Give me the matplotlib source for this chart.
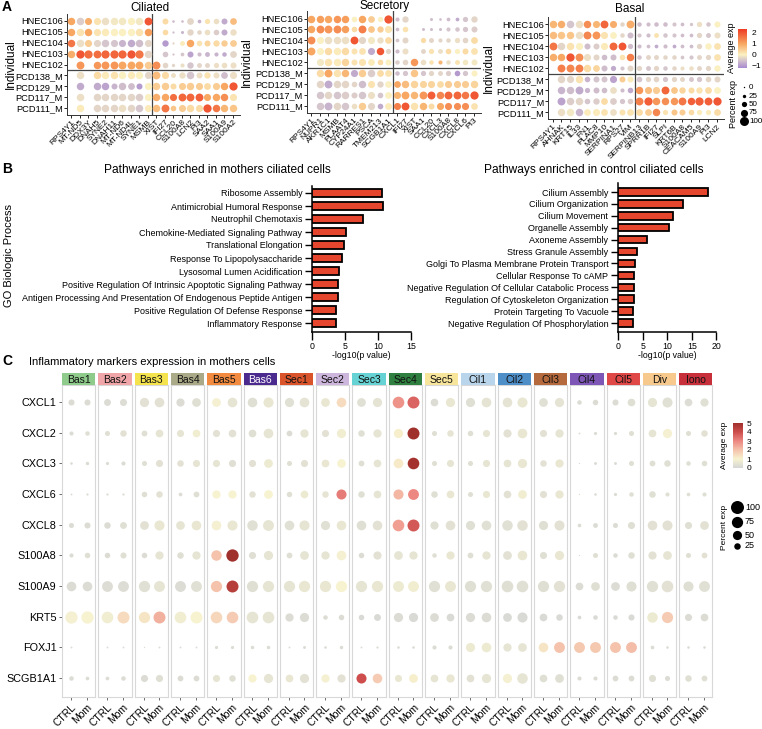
import numpy as np
import matplotlib
matplotlib.use('Agg')
import matplotlib.pyplot as plt
from matplotlib.colors import LinearSegmentedColormap, Normalize
from matplotlib.cm import ScalarMappable

plt.rcParams['font.family'] = ['Liberation Sans', 'DejaVu Sans']

W, H = 762, 729
fig = plt.figure(figsize=(W / 100, H / 100), dpi=100)

# ---------------- DATA : panel A ----------------
individuals = ['HNEC106', 'HNEC105', 'HNEC104', 'HNEC103', 'HNEC102',
               'PCD138_M', 'PCD129_M', 'PCD117_M', 'PCD111_M']
nan = np.nan

cil_genes = ['RPS4Y1', 'MT-ND5', 'DDX3Y', 'DNAH5', 'SYNE2', 'DNAH11', 'MT-ND6', 'MT-ND4L', 'SYNE1', 'MSMB',
             'XIST', 'IFI27', 'CCL20', 'S100A8', 'LCN2', 'PI3', 'SAA2', 'SAA1', 'S100A9', 'S100A2']
cil_avg = [
    [1.0, -0.4, 0.9, 0.2, -0.2, -0.1, -0.1, 0.0, -0.1, 2.0, nan, 0.3, -0.6, -0.6, -0.3, -0.7, 0.2, -0.2, -0.8, 0.7],
    [1.0, 0.2, 1.0, 0.2, 0.1, 0.0, 0.0, 0.0, 0.2, 1.1, nan, 0.3, -0.6, -0.7, -0.3, -0.3, -0.2, -0.4, -0.8, -0.2],
    [1.6, -0.2, 0.5, -0.3, -0.5, -0.5, -0.7, -0.8, -0.6, -0.3, nan, -1.0, -0.3, 0.1, 1.0, 0.2, 0.4, 0.3, 0.5, 0.5],
    [0.9, 2.0, 1.7, 1.7, 1.8, 1.8, 1.8, 2.0, 1.6, -0.3, nan, -0.5, -0.5, -0.5, -0.9, -0.6, -0.7, -0.7, -0.8, -0.3],
    [nan, 1.2, nan, 1.2, 1.2, 1.2, 1.0, 1.0, 1.0, 0.5, 1.3, -0.3, -0.3, -0.2, -0.5, -0.3, -0.3, -0.2, -0.2, -0.2],
    [nan, -0.2, nan, 0.3, 0.1, 0.2, 0.0, 0.1, 0.0, -0.3, 0.7, 0.3, -0.2, -0.2, -0.5, -0.2, 0.2, -0.2, -0.6, -0.2],
    [nan, -0.8, nan, -0.8, -0.9, -0.7, -0.6, -0.6, -1.0, 0.0, 0.5, 0.5, 0.3, 0.5, 0.5, 0.5, 0.3, 0.5, 1.0, 2.0],
    [nan, -0.2, nan, -0.3, -0.3, -0.3, -0.3, -0.3, -0.4, 0.0, 0.9, 1.0, 1.7, 1.8, 1.8, 1.9, 1.0, 1.0, 1.3, 0.2],
    [nan, 0.1, nan, -0.3, -0.3, -0.3, -0.2, -0.3, -0.5, 0.1, 0.7, 1.6, 0.6, 0.5, 0.3, 0.3, 2.0, 1.6, 0.8, 0.6],
]
cil_pct = [
    [80, 80, 75, 75, 80, 80, 80, 80, 80, 85, 0, 60, 15, 15, 70, 30, 50, 55, 60, 70],
    [80, 80, 80, 75, 80, 80, 80, 80, 80, 80, 0, 55, 10, 20, 65, 40, 55, 55, 60, 65],
    [80, 80, 75, 75, 80, 75, 75, 80, 80, 75, 0, 65, 10, 45, 80, 55, 60, 65, 65, 70],
    [80, 90, 90, 85, 90, 90, 90, 90, 90, 80, 0, 55, 10, 30, 60, 35, 45, 35, 40, 70],
    [0, 85, 0, 80, 85, 85, 85, 85, 85, 80, 85, 55, 25, 35, 65, 45, 45, 50, 55, 60],
    [0, 80, 0, 80, 80, 80, 80, 80, 80, 75, 85, 75, 45, 65, 80, 60, 65, 60, 70, 75],
    [0, 80, 0, 80, 80, 60, 80, 70, 60, 75, 80, 80, 60, 75, 80, 75, 70, 75, 80, 90],
    [0, 80, 0, 80, 80, 80, 80, 80, 80, 75, 80, 80, 75, 85, 85, 85, 75, 80, 80, 75],
    [0, 80, 0, 80, 80, 80, 80, 80, 80, 75, 80, 85, 55, 75, 80, 75, 90, 80, 80, 80],
]

sec_genes = ['RPS4Y1', 'NUPR1', 'AKR1C1', 'MSMB', 'PLAAT4', 'CYP24A1', 'RARRES1', 'PSCA', 'TMEM213', 'SCGB1A1',
             'CXCL1', 'IFI27', 'XIST', 'SAA1', 'CCL20', 'CXCL3', 'S100A8', 'CXCL8', 'CXCL6', 'PI3']
sec_avg = [
    [1.0, 1.1, 1.0, 1.2, 1.1, 0.0, 1.0, 0.5, 0.0, 2.0, -0.6, -0.3, nan, nan, -0.6, -0.6, -0.6, -0.8, -0.5, -0.3],
    [1.0, 1.3, 1.2, 1.3, 1.1, 0.3, 1.5, 0.6, 0.5, 0.2, -0.6, 0.2, nan, -0.6, -0.6, -0.6, -0.5, -0.5, -0.5, -0.4],
    [1.3, 0.0, -0.2, -0.2, -0.2, 2.0, -0.3, -0.1, -0.2, 0.3, -0.5, -0.3, nan, 0.3, -0.3, -0.3, -0.3, -0.2, -0.3, 0.3],
    [1.0, 0.0, 0.3, 0.1, 0.3, 0.2, 0.2, -0.8, 2.0, -0.3, -0.6, -0.2, nan, -0.3, 0.2, -0.2, 0.3, 0.0, 0.3, 0.2],
    [nan, -0.1, 0.2, 0.1, 0.4, 0.2, 0.2, 0.1, 0.3, 0.0, -0.4, -0.3, 1.2, -0.2, 0.2, 0.8, -0.2, 0.2, -0.1, -0.1],
    [nan, 0.3, 1.0, 0.2, 0.8, -0.8, 0.5, -0.4, 0.3, 0.2, -0.6, -0.5, 0.6, -0.5, -0.3, -0.3, -0.4, -1.0, -0.5, 0.0],
    [nan, -0.3, -0.8, -0.3, -0.3, -0.3, -0.6, 0.2, -0.3, 0.0, 1.0, 0.7, 0.4, 0.4, 0.4, 0.3, 0.5, 0.5, 0.5, 0.4],
    [nan, -0.5, -0.3, -0.5, -0.4, -0.4, -0.5, -0.2, -0.5, 0.0, 0.8, 1.0, 0.8, 1.2, 1.9, 1.4, 1.8, 1.8, 1.6, 2.0],
    [nan, -0.5, -0.7, -0.3, -0.5, -0.2, 0.5, -0.3, -0.8, 0.1, 1.5, 2.0, 0.2, 0.8, 0.3, 1.0, 1.3, 1.3, 1.3, 0.2],
]
sec_pct = [
    [80, 80, 80, 80, 80, 55, 80, 70, 50, 90, 35, 65, 0, 0, 20, 15, 30, 30, 50, 65],
    [80, 85, 85, 85, 80, 55, 85, 70, 65, 75, 30, 55, 0, 20, 20, 20, 35, 40, 50, 60],
    [85, 75, 80, 80, 80, 85, 75, 75, 65, 70, 30, 60, 0, 50, 45, 35, 40, 50, 55, 70],
    [85, 75, 80, 80, 80, 60, 70, 75, 80, 50, 35, 60, 0, 45, 50, 45, 55, 50, 60, 70],
    [0, 75, 80, 80, 80, 60, 75, 70, 55, 60, 40, 55, 80, 55, 40, 35, 40, 45, 55, 60],
    [0, 80, 85, 80, 80, 75, 80, 80, 70, 70, 40, 50, 80, 50, 50, 45, 50, 55, 50, 60],
    [0, 80, 85, 80, 80, 55, 80, 75, 65, 70, 70, 80, 80, 75, 75, 70, 75, 75, 75, 80],
    [0, 80, 80, 80, 80, 60, 80, 75, 55, 70, 75, 85, 80, 85, 85, 80, 85, 85, 80, 90],
    [0, 80, 85, 80, 80, 55, 80, 75, 55, 70, 75, 85, 80, 80, 60, 75, 75, 75, 75, 70],
]

bas_genes = ['RPS4Y1', 'AHNAK', 'KRT15', 'IL33', 'FN1', 'PLAC8', 'MMP10', 'SERPINA1', 'RPS27', 'VIM',
             'SERPINB13', 'SPRR1B', 'IFI27', 'SLPI', 'KRT6B', 'S100A8', 'CEACAM5', 'S100A9', 'PI3', 'LCN2']
bas_avg = [
    [0.8, 0.9, -0.5, -0.2, 1.3, 0.8, 1.8, 0.9, -0.3, 0.9, -0.6, -0.6, -0.6, -0.6, -0.5, -0.6, -0.5, -0.2, -0.5, 0.0],
    [0.7, 0.6, 0.6, -0.2, 1.4, 1.2, 0.2, 0.0, -0.3, -0.6, -0.5, -0.6, 0.2, -0.5, -0.5, -0.6, -0.6, -0.3, -0.5, -0.2],
    [1.6, -0.3, 0.2, 0.0, -0.6, -0.4, 0.1, 1.8, 2.0, -0.6, -0.6, -0.6, -0.8, -0.6, -0.8, -0.6, -0.6, -0.3, 0.0, 0.2],
    [0.9, 1.0, 2.0, 1.3, -0.2, -0.3, -0.6, -0.6, 0.2, 1.5, -0.5, -0.3, -0.3, -0.3, -0.3, -0.5, -0.5, -0.3, -0.3, 0.2],
    [nan, 1.5, 1.4, 1.5, 0.3, 0.4, -0.6, -0.8, -0.5, -0.3, -0.3, -0.5, -0.3, -0.5, -0.3, -0.2, -0.2, -0.3, -0.3, 0.0],
    [nan, -0.3, -0.3, 0.2, -0.7, -0.5, -0.5, -0.9, 0.5, 0.1, -0.5, -0.3, -0.3, -0.5, -0.3, -0.3, -0.5, -0.5, -0.3, -0.3],
    [nan, -0.7, -0.6, -0.8, -0.7, -0.6, -0.6, -0.2, -0.6, -0.8, 1.2, 0.7, 0.5, 1.8, 0.6, 0.4, 0.3, 0.2, 0.3, 0.0],
    [nan, -0.9, -0.4, -0.3, -0.5, -0.4, 0.3, -0.4, -0.5, -0.4, 1.5, 1.9, 1.2, 1.3, 1.2, 1.6, 1.9, 1.9, 1.9, 2.0],
    [nan, -0.2, -0.1, -0.7, 0.1, 0.1, 0.2, -0.2, 0.2, 0.2, 0.3, 0.5, 1.4, 0.2, 0.6, 0.5, 0.3, 0.1, 0.1, 0.3],
]
bas_pct = [
    [80, 80, 80, 80, 80, 75, 85, 75, 40, 85, 40, 35, 40, 40, 35, 30, 25, 50, 40, 60],
    [80, 80, 80, 80, 85, 85, 75, 70, 40, 60, 35, 35, 45, 40, 35, 30, 30, 50, 45, 60],
    [85, 80, 80, 75, 60, 60, 75, 85, 85, 50, 35, 30, 30, 35, 30, 30, 30, 50, 65, 70],
    [80, 80, 90, 85, 75, 60, 55, 60, 55, 80, 40, 45, 45, 40, 40, 30, 35, 45, 50, 70],
    [0, 85, 85, 85, 80, 70, 60, 50, 35, 60, 50, 45, 50, 40, 40, 35, 40, 45, 50, 65],
    [0, 80, 75, 80, 55, 60, 60, 75, 60, 60, 55, 50, 55, 50, 50, 45, 45, 50, 55, 60],
    [0, 80, 80, 85, 50, 60, 55, 70, 35, 55, 80, 75, 75, 85, 70, 65, 60, 65, 70, 70],
    [0, 85, 80, 80, 55, 65, 70, 70, 50, 55, 85, 90, 80, 80, 80, 85, 80, 90, 85, 90],
    [0, 80, 80, 80, 70, 75, 70, 70, 60, 70, 70, 70, 80, 50, 60, 60, 55, 50, 50, 70],
]

# ---------------- DATA : panel B ----------------
mom_terms = ['Ribosome Assembly', 'Antimicrobial Humoral Response', 'Neutrophil Chemotaxis',
             'Chemokine-Mediated Signaling Pathway', 'Translational Elongation',
             'Response To Lipopolysaccharide', 'Lysosomal Lumen Acidification',
             'Positive Regulation Of Intrinsic Apoptotic Signaling Pathway',
             'Antigen Processing And Presentation Of Endogenous Peptide Antigen',
             'Positive Regulation Of Defense Response', 'Inflammatory Response']
mom_logp = [10.6, 10.7, 7.8, 5.1, 4.8, 4.5, 4.1, 3.9, 3.9, 3.7, 3.6]

ctrl_terms = ['Cilium Assembly', 'Cilium Organization', 'Cilium Movement', 'Organelle Assembly',
              'Axoneme Assembly', 'Stress Granule Assembly', 'Golgi To Plasma Membrane Protein Transport',
              'Cellular Response To cAMP', 'Negative Regulation Of Cellular Catabolic Process',
              'Regulation Of Cytoskeleton Organization', 'Protein Targeting To Vacuole',
              'Negative Regulation Of Phosphorylation']
ctrl_logp = [18.2, 13.3, 11.2, 10.4, 5.9, 3.9, 3.5, 3.3, 3.2, 3.2, 3.1, 3.0]

# ---------------- DATA : panel C ----------------
clusters = ['Bas1', 'Bas2', 'Bas3', 'Bas4', 'Bas5', 'Bas6', 'Sec1', 'Sec2', 'Sec3', 'Sec4', 'Sec5',
            'Cil1', 'Cil2', 'Cil3', 'Cil4', 'Cil5', 'Div', 'Iono']
cluster_colors = ['#8FCB8B', '#F0A6A8', '#F4E34C', '#ABAA88', '#F28B3F', '#4C2B8E', '#D9542B',
                  '#CDB6DC', '#66D2D4', '#2F7F40', '#F8E59C', '#B9D5EB', '#4F8FC8', '#B56A3D',
                  '#7D56B6', '#E04747', '#F8C98D', '#C7303B']
conditions = ['CTRL', 'Mom']
markers = ['CXCL1', 'CXCL2', 'CXCL3', 'CXCL6', 'CXCL8', 'S100A8', 'S100A9', 'KRT5', 'FOXJ1', 'SCGB1A1']

# values per cluster as (CTRL, Mom) pairs
avg_CXCL1 = [0.2, 0.2, 0.2, 0.25, 0.4, 0.4, 0.2, 0.3, 0.9, 0.5, 0.3, 0.6, 0.35, 0.45, 0.6, 1.5, 0.35, 0.45,
             2.8, 3.6, 0.2, 0.6, 0.3, 0.45, 0.45, 0.6, 0.35, 0.45, 0.2, 0.2, 0.2, 0.3, 0.5, 0.35, 0.25, 0.35]
pct_CXCL1 = [22, 22, 28, 30, 50, 55, 40, 45, 45, 55, 55, 60, 50, 55, 45, 55, 45, 50,
             80, 85, 35, 50, 50, 55, 55, 60, 45, 50, 12, 18, 22, 35, 50, 60, 35, 40]
avg_CXCL2 = [0.2, 0.3, 0.3, 0.4, 0.3, 0.5, 0.5, 0.8, 0.4, 0.4, 0.3, 0.5, 0.2, 0.5, 0.4, 0.8, 0.3, 0.5,
             1.1, 5.0, 0.3, 0.5, 0.3, 0.5, 0.4, 0.6, 0.4, 0.5, 0.2, 0.2, 0.2, 0.3, 0.5, 0.9, 0.3, 0.4]
pct_CXCL2 = [10, 12, 15, 25, 20, 35, 30, 35, 30, 35, 35, 55, 20, 40, 30, 50, 25, 40,
             50, 85, 15, 25, 18, 30, 40, 55, 30, 40, 2, 6, 6, 15, 35, 50, 15, 25]
avg_CXCL3 = [0.2, 0.2, 0.2, 0.2, 0.3, 0.4, 0.4, 0.5, 0.5, 0.3, 0.4, 0.7, 0.3, 0.4, 0.6, 1.0, 0.3, 0.5,
             1.2, 4.9, 0.3, 0.5, 0.3, 0.5, 0.5, 0.6, 0.4, 0.6, 0.2, 0.2, 0.2, 0.3, 0.3, 0.3, 0.3, 0.3]
pct_CXCL3 = [4, 7, 6, 10, 15, 30, 25, 30, 30, 30, 30, 45, 15, 30, 35, 45, 20, 35,
             55, 80, 15, 30, 15, 30, 35, 50, 25, 40, 1, 5, 5, 15, 20, 25, 12, 18]
avg_CXCL6 = [0.2, 0.2, 0.2, 0.2, 0.3, 0.4, 0.2, 0.3, 1.0, 1.0, 0.4, 1.0, 0.3, 0.7, 0.5, 3.2, 0.3, 0.5,
             2.2, 3.0, 0.3, 0.6, 0.3, 0.6, 0.4, 0.8, 0.4, 0.6, 0.2, 0.2, 0.2, 0.3, 0.3, 0.3, 0.3, 0.3]
pct_CXCL6 = [2, 3, 3, 3, 18, 25, 8, 20, 40, 40, 25, 45, 18, 35, 25, 60, 25, 35,
             60, 70, 25, 35, 15, 30, 35, 45, 30, 40, 1, 4, 6, 12, 25, 10, 8, 10]
avg_CXCL8 = [0.2, 0.2, 0.2, 0.3, 0.4, 0.6, 0.5, 0.6, 0.9, 0.6, 0.35, 0.5, 0.35, 0.5, 0.35, 0.6, 0.3, 0.4,
             2.6, 3.8, 0.3, 0.4, 0.3, 0.35, 0.35, 0.4, 0.3, 0.4, 0.2, 0.2, 0.2, 0.3, 0.4, 0.4, 0.3, 0.4]
pct_CXCL8 = [15, 22, 25, 28, 45, 60, 45, 55, 55, 60, 65, 70, 55, 60, 50, 55, 55, 55,
             80, 85, 40, 55, 50, 55, 65, 65, 50, 60, 8, 14, 15, 30, 55, 60, 30, 45]
avg_S100A8 = [0.2, 0.3, 0.2, 0.3, 0.2, 0.5, 0.3, 0.5, 2.0, 5.0, 0.3, 0.5, 0.3, 0.5, 0.5, 0.9, 0.2, 0.4,
              0.5, 0.5, 0.3, 0.6, 0.3, 0.5, 0.4, 0.6, 0.3, 0.6, 0.2, 0.3, 0.2, 0.3, 0.4, 0.5, 0.3, 0.4]
pct_S100A8 = [10, 18, 18, 22, 18, 40, 25, 40, 65, 90, 30, 50, 20, 45, 40, 55, 18, 40,
              45, 40, 12, 40, 20, 40, 45, 55, 30, 50, 1, 15, 12, 25, 40, 45, 15, 20]
avg_S100A9 = [0.2, 0.2, 0.25, 0.25, 0.35, 0.5, 0.2, 0.35, 2.0, 4.5, 0.3, 0.5, 0.5, 0.6, 0.6, 1.0, 0.5, 0.6,
              0.7, 0.8, 0.35, 0.6, 0.3, 0.35, 0.3, 0.35, 0.3, 0.4, 0.2, 0.3, 0.2, 0.3, 0.35, 0.4, 0.3, 0.35]
pct_S100A9 = [55, 55, 70, 70, 75, 70, 70, 70, 75, 85, 75, 75, 75, 75, 75, 75, 75, 75,
              70, 70, 75, 70, 75, 75, 80, 80, 75, 75, 35, 45, 45, 60, 75, 80, 60, 70]
avg_KRT5 = [0.9, 1.0, 0.8, 1.5, 1.3, 2.3, 0.8, 1.0, 1.6, 1.8, 0.5, 0.5, 0.2, 0.2, 0.2, 0.2, 0.1, 0.1,
            0.2, 0.1, 0.2, 0.1, 0.2, 0.2, 0.1, 0.1, 0.1, 0.1, 0.1, 0.1, 0.1, 0.1, 0.7, 1.8, 0.2, 0.2]
pct_KRT5 = [90, 90, 80, 85, 75, 85, 80, 85, 80, 80, 80, 80, 40, 50, 12, 18, 18, 28,
            50, 50, 45, 35, 50, 55, 45, 60, 35, 25, 8, 12, 12, 22, 65, 75, 30, 35]
avg_FOXJ1 = [0.2, 0.2, 0.2, 0.2, 0.2, 0.2, 0.2, 0.2, 0.2, 0.2, 0.2, 0.2, 0.2, 0.2, 0.2, 0.2, 0.2, 0.2,
             0.2, 0.2, 0.2, 0.2, 0.7, 0.7, 0.5, 0.5, 1.3, 2.0, 1.9, 1.9, 2.0, 2.1, 0.2, 0.2, 0.2, 0.2]
pct_FOXJ1 = [2, 0, 2, 2, 1, 2, 2, 2, 6, 6, 7, 7, 2, 5, 4, 7, 2, 3,
             4, 4, 10, 10, 50, 55, 40, 45, 55, 70, 70, 70, 70, 70, 8, 4, 4, 4]
avg_SCGB1A1 = [0.2, 0.2, 0.2, 0.2, 0.2, 0.3, 0.2, 0.2, 0.5, 0.3, 1.0, 0.5, 0.6, 0.4, 0.9, 0.4, 4.0, 1.8,
               0.6, 1.1, 0.5, 0.6, 0.4, 0.5, 0.9, 0.5, 0.3, 0.3, 0.2, 0.2, 0.2, 0.2, 0.3, 0.2, 0.3, 0.3]
pct_SCGB1A1 = [12, 8, 8, 12, 30, 30, 20, 20, 30, 25, 40, 50, 35, 50, 40, 40, 60, 55,
               30, 45, 35, 40, 35, 50, 50, 65, 35, 45, 10, 10, 20, 20, 30, 15, 25, 20]

c_avg = np.array([avg_CXCL1, avg_CXCL2, avg_CXCL3, avg_CXCL6, avg_CXCL8, avg_S100A8,
                  avg_S100A9, avg_KRT5, avg_FOXJ1, avg_SCGB1A1]).reshape(10, 18, 2)
c_pct = np.array([pct_CXCL1, pct_CXCL2, pct_CXCL3, pct_CXCL6, pct_CXCL8, pct_S100A8,
                  pct_S100A9, pct_KRT5, pct_FOXJ1, pct_SCGB1A1]).reshape(10, 18, 2)

# ---------------- helpers ----------------
def px_axes(x0, y0, x1, y1, **kw):
    return fig.add_axes([x0 / W, 1 - y1 / H, (x1 - x0) / W, (y1 - y0) / H], **kw)

cmapA = LinearSegmentedColormap.from_list('A', [
    (0.0, '#A88ACF'), (0.2, '#D6C6CC'), (0.34, '#FBF1C2'), (0.62, '#F7A762'), (1.0, '#EE3A22')])
normA = Normalize(-1.2, 2.35)

def sizeA(p):
    d = 1.5 + 7.5 * np.asarray(p) / 100.0
    return (d * 0.72) ** 2

def dot_panel(genes, avg, pct, col1, col20, row1, row9):
    xlo, xhi = 0.5, 20.8
    ytop, ybot = 0.35, 9.6
    dx = (col20 - col1) / 19.0
    dy = (row9 - row1) / 8.0
    x0 = col1 - (1 - xlo) * dx
    x1 = col20 + (xhi - 20) * dx
    y0 = row1 - (1 - ytop) * dy
    y1 = row9 + (ybot - 9) * dy
    ax = px_axes(x0, y0, x1, y1)
    avg = np.array(avg, dtype=float)
    pct = np.array(pct, dtype=float)
    for i in range(9):
        for j in range(20):
            if np.isnan(avg[i, j]) or pct[i, j] <= 0:
                continue
            ax.scatter(j + 1, i + 1, s=sizeA(pct[i, j]), c=[cmapA(normA(avg[i, j]))],
                       linewidths=0, zorder=3)
    ax.set_xlim(xlo, xhi)
    ax.set_ylim(ybot, ytop)
    ax.axvline(10.5, color='#444444', lw=0.9, zorder=2)
    ax.axhline(5.5, color='#444444', lw=0.9, zorder=2)
    ax.set_xticks(range(1, 21))
    ax.set_xticklabels(genes, rotation=45, ha='right', rotation_mode='anchor', fontsize=6)
    ax.set_yticks(range(1, 10))
    ax.set_yticklabels(individuals, fontsize=6.7)
    ax.tick_params(length=2, width=0.6, pad=1)
    for s in ['top', 'right']:
        ax.spines[s].set_visible(False)
    for s in ['left', 'bottom']:
        ax.spines[s].set_linewidth(0.7)
        ax.spines[s].set_color('#333333')
    return ax

dot_panel(cil_genes, cil_avg, cil_pct, 71, 233, 21, 108)
dot_panel(sec_genes, sec_avg, sec_pct, 311, 474, 18.5, 106)
dot_panel(bas_genes, bas_avg, bas_pct, 552.7, 716.7, 24.3, 112.3)

# ---------------- panel B ----------------
bar_color = '#E6462E'

def bar_panel(terms, vals, x0px, ppu, xmax, ticks, ytop, row0, rowlast, ybot):
    n = len(terms)
    dy = (rowlast - row0) / (n - 1)
    ax = px_axes(x0px, ytop, x0px + xmax * ppu, ybot)
    ax.barh(range(n), vals, height=0.62, color=bar_color, edgecolor='black', linewidth=1.3, zorder=3)
    ax.set_xlim(0, xmax)
    ax.set_ylim(n - 1 + (ybot - rowlast) / dy, -(row0 - ytop) / dy)
    ax.set_yticks(range(n))
    ax.set_yticklabels(terms, fontsize=6.5)
    ax.set_xticks(ticks)
    ax.set_xticklabels([str(t) for t in ticks], fontsize=6.3)
    ax.set_xlabel('-log10(p value)', fontsize=6.3, labelpad=0.5)
    ax.tick_params(axis='y', length=5, width=1.0, pad=2)
    ax.tick_params(axis='x', length=5.5, width=1.0, pad=1.5)
    for s in ['top', 'right']:
        ax.spines[s].set_visible(False)
    for s in ['left', 'bottom']:
        ax.spines[s].set_linewidth(1.1)
    return ax

bar_panel(mom_terms, mom_logp, 312, 6.6, 15, [0, 5, 10, 15], 186, 193, 323, 332)
bar_panel(ctrl_terms, ctrl_logp, 618, 4.92, 20, [0, 5, 10, 15, 20], 183, 192, 323, 332)

# ---------------- panel C ----------------
cmapC = LinearSegmentedColormap.from_list('C', [
    (0.0, '#D6D6D6'), (0.2, '#F7F3D0'), (0.4, '#F5C3AC'), (0.6, '#EC8781'), (0.8, '#CD4E4C'), (1.0, '#A0302C')])
normC = Normalize(0, 5)

def sizeC(p):
    return 87.6 * np.asarray(p) / 100.0

fx0, period, fw = 62.0, 36.3, 33.4
for k, name in enumerate(clusters):
    x0 = fx0 + k * period
    ax = px_axes(x0, 385, x0 + fw, 697)
    for g in range(10):
        for c in range(2):
            p = c_pct[g, k, c]
            if p <= 0:
                continue
            ax.scatter(c + 1, g, s=sizeC(p), c=[cmapC(normC(c_avg[g, k, c]))], linewidths=0, zorder=3)
    ax.set_xlim(0.43, 2.56)
    ax.set_ylim(9.62, -0.55)
    ax.set_xticks([1, 2])
    ax.set_xticklabels(conditions, rotation=45, ha='right', rotation_mode='anchor', fontsize=7.5)
    ax.tick_params(axis='x', length=2, width=0.6, color='#555555', pad=2)
    if k == 0:
        ax.set_yticks(range(10))
        ax.set_yticklabels(markers, fontsize=7.8)
        ax.tick_params(axis='y', length=2, width=0.6, color='#555555', pad=2)
    else:
        ax.set_yticks([])
    for s in ax.spines.values():
        s.set_color('#D8D8D8')
        s.set_linewidth(0.8)
    sax = px_axes(x0, 373, x0 + fw, 385)
    sax.set_facecolor(cluster_colors[k])
    sax.set_xticks([]); sax.set_yticks([])
    for s in sax.spines.values():
        s.set_visible(False)
    sax.text(0.5, 0.45, name, ha='center', va='center', fontsize=7.5,
             color='white' if name == 'Bas6' else '#111111', transform=sax.transAxes)

# ---------------- legends ----------------
caxA = px_axes(738, 29, 747, 68)
cbA = fig.colorbar(ScalarMappable(norm=normA, cmap=cmapA), cax=caxA)
cbA.set_ticks([-1, 0, 1, 2])
cbA.set_ticklabels(['\u22121', '0', '1', '2'])
cbA.outline.set_visible(False)
caxA.tick_params(labelsize=6, length=2, width=0.6, color='white', pad=1)

caxC = px_axes(733, 423, 743, 468)
cbC = fig.colorbar(ScalarMappable(norm=normC, cmap=cmapC), cax=caxC)
cbC.set_ticks([0, 1, 2, 3, 4, 5])
cbC.outline.set_visible(False)
caxC.tick_params(labelsize=6, length=2, width=0.6, color='white', pad=0.5)

ov = fig.add_axes([0, 0, 1, 1], zorder=10)
ov.set_xlim(0, W)
ov.set_ylim(H, 0)
ov.axis('off')
ov.patch.set_alpha(0)

# panel A titles and axis titles
ov.text(150, 7.5, 'Ciliated', fontsize=8.5, ha='center', va='center')
ov.text(385, 6, 'Secretory', fontsize=8.5, ha='center', va='center')
ov.text(630, 9, 'Basal', fontsize=8.5, ha='center', va='center')
ov.text(11, 64, 'Individual', rotation=90, fontsize=8.5, ha='center', va='center')
ov.text(247, 62, 'Individual', rotation=90, fontsize=8.5, ha='center', va='center')
ov.text(489, 68, 'Individual', rotation=90, fontsize=8.5, ha='center', va='center')

# panel A legend texts
ov.text(731, 48, 'Average exp', rotation=90, ha='center', va='center', fontsize=6.5)
ov.text(733, 104, 'Percent exp', rotation=90, ha='center', va='center', fontsize=6.5)
legA_pct = [0, 25, 50, 75, 100]
legA_y = [87, 96, 104, 112.5, 121]
for p, y in zip(legA_pct, legA_y):
    ov.scatter(744, y, s=sizeA(p) if p > 0 else 1.0, c='black', linewidths=0)
    ov.text(749, y, str(p), ha='left', va='center', fontsize=5.8)

# panel C legend texts
ov.text(725, 445, 'Average exp', rotation=90, ha='center', va='center', fontsize=6)
ov.text(725, 527, 'Percent exp', rotation=90, ha='center', va='center', fontsize=6)
legC_pct = [100, 75, 50, 25]
legC_y = [507, 522, 535, 546]
for p, y in zip(legC_pct, legC_y):
    ov.scatter(737, y, s=sizeC(p), c='black', linewidths=0)
    ov.text(745, y, str(p), ha='left', va='center', fontsize=6.5)

# panel letters and titles
ov.text(2, 7, 'A', fontsize=10, fontweight='bold', ha='left', va='center')
ov.text(2, 169, 'B', fontsize=10, fontweight='bold', ha='left', va='center')
ov.text(2, 361, 'C', fontsize=10, fontweight='bold', ha='left', va='center')
ov.text(217, 170, 'Pathways enriched in mothers ciliated cells', fontsize=8.6, ha='center', va='center')
ov.text(594, 170, 'Pathways enriched in control ciliated cells', fontsize=8.6, ha='center', va='center')
ov.text(9, 255, 'GO Biologic Process', rotation=90, fontsize=8, ha='center', va='center')
ov.text(29, 362, 'Inflammatory markers expression in mothers cells', fontsize=8, ha='left', va='center')

fig.savefig('out.png', dpi=100)
